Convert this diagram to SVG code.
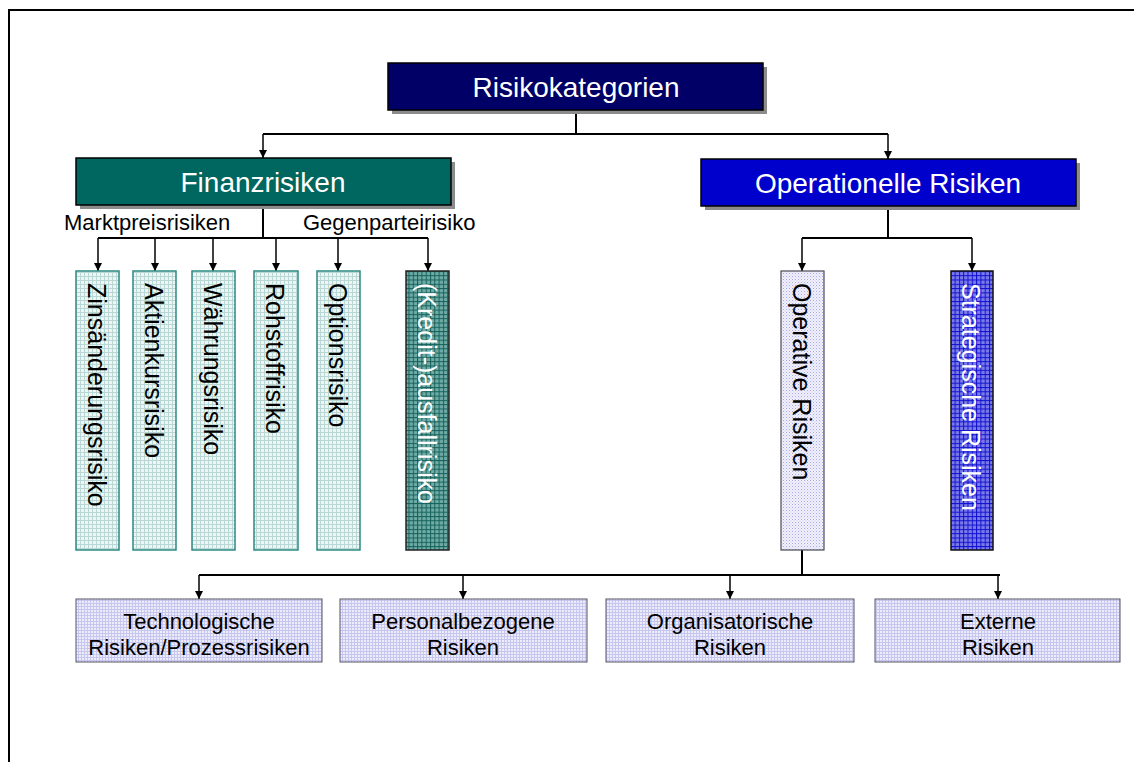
<svg xmlns="http://www.w3.org/2000/svg" width="1134" height="762" viewBox="0 0 1134 762">
  <style>
    text { font-family: "Liberation Sans", Arial, sans-serif; }
    .head { font-size: 28px; fill: #ffffff; text-anchor: middle; }
    .lbl { font-size: 22px; fill: #000000; }
    .vert { font-size: 25px; }
    .sub { font-size: 22px; fill: #000000; text-anchor: middle; }
    .wire { fill: none; stroke: #000000; stroke-width: 2; }
    .arrow { fill: none; stroke: #000000; stroke-width: 1.5; marker-end: url(#tip); }
    .shadow { fill: #8c8c8c; }
    .teal { fill: url(#dotTeal); stroke: #2e8a83; stroke-width: 1.5; }
    .lav { fill: url(#dotLav); stroke: #4a4a55; stroke-width: 1.2; }
    .box { fill: url(#gridLav); stroke: #555566; stroke-width: 1; }
  </style>
  <defs>
    <marker id="tip" viewBox="0 0 10 10" refX="10" refY="5" markerWidth="8" markerHeight="8" markerUnits="userSpaceOnUse" orient="auto">
      <path d="M0,0 L10,5 L0,10 Z" fill="#000000"/>
    </marker>
    <pattern id="dotTeal" width="4" height="4" patternUnits="userSpaceOnUse">
      <rect width="4" height="4" fill="#eef6f5"/>
      <rect x="0" y="0" width="4" height="1" fill="#b9d8d5"/>
      <rect x="0" y="0" width="1" height="4" fill="#b9d8d5"/>
    </pattern>
    <pattern id="gridTeal" width="4.3" height="4.3" patternUnits="userSpaceOnUse">
      <rect width="4.3" height="4.3" fill="#70aba6"/>
      <rect x="0" y="0" width="4.3" height="1" fill="#15615b"/>
      <rect x="0" y="0" width="1" height="4.3" fill="#15615b"/>
    </pattern>
    <pattern id="dotLav" width="3" height="3" patternUnits="userSpaceOnUse">
      <rect width="3" height="3" fill="#f0f0fb"/>
      <rect x="0" y="0" width="1" height="1" fill="#a8a8e6"/>
      <rect x="1.5" y="1.5" width="1" height="1" fill="#c8c8f0"/>
    </pattern>
    <pattern id="gridBlue" width="4.3" height="4.3" patternUnits="userSpaceOnUse">
      <rect width="4.3" height="4.3" fill="#7b7be8"/>
      <rect x="0" y="0" width="4.3" height="1" fill="#1010d0"/>
      <rect x="0" y="0" width="1" height="4.3" fill="#1010d0"/>
    </pattern>
    <pattern id="gridLav" width="3" height="3" patternUnits="userSpaceOnUse">
      <rect width="3" height="3" fill="#ececfa"/>
      <rect x="0" y="0" width="3" height="1" fill="#c6c6ee"/>
      <rect x="0" y="0" width="1" height="3" fill="#c6c6ee"/>
    </pattern>
  </defs>

  <rect width="1134" height="762" fill="#ffffff"/>
  <!-- outer frame (open to the right and bottom) -->
  <path d="M9,762 V10 H1134" fill="none" stroke="#000000" stroke-width="2"/>

  <g id="connectors">
    <!-- root to first level -->
    <path class="wire" d="M576,111 V134 M263,134 H888"/>
    <path class="arrow" d="M263,134 V158"/>
    <path class="arrow" d="M888,134 V159"/>
    <!-- Finanzrisiken branch -->
    <path class="wire" d="M263,205 V238 M98,238 H428"/>
    <path class="arrow" d="M98,238 V271"/>
    <path class="arrow" d="M155,238 V271"/>
    <path class="arrow" d="M213,238 V271"/>
    <path class="arrow" d="M276,238 V271"/>
    <path class="arrow" d="M338,238 V271"/>
    <path class="arrow" d="M428,238 V271"/>
    <!-- Operationelle Risiken branch -->
    <path class="wire" d="M888,206 V238 M802,238 H972"/>
    <path class="arrow" d="M802,238 V271"/>
    <path class="arrow" d="M972,238 V271"/>
    <!-- Operative Risiken branch -->
    <path class="wire" d="M802,550 V575 M199,575 H1000"/>
    <path class="arrow" d="M199,575 V599"/>
    <path class="arrow" d="M463,575 V599"/>
    <path class="arrow" d="M730,575 V599"/>
    <path class="arrow" d="M998,575 V599"/>
  </g>

  <g id="risikokategorien">
    <rect class="shadow" x="392" y="67" width="375" height="47"/>
    <rect x="388" y="63" width="375" height="47" fill="#000066" stroke="#000000" stroke-width="1.5"/>
    <text class="head" x="576" y="97">Risikokategorien</text>
  </g>

  <g id="finanzrisiken">
    <rect class="shadow" x="80" y="162" width="375" height="47"/>
    <rect x="76" y="158" width="375" height="47" fill="#006660" stroke="#000000" stroke-width="1.5"/>
    <text class="head" x="263" y="192">Finanzrisiken</text>
  </g>

  <g id="operationelle-risiken">
    <rect class="shadow" x="705" y="163" width="375" height="47"/>
    <rect x="701" y="159" width="375" height="47" fill="#0000cc" stroke="#000000" stroke-width="1.5"/>
    <text class="head" x="888" y="193">Operationelle Risiken</text>
  </g>

  <g id="branch-labels">
    <text class="lbl" x="64" y="230">Marktpreisrisiken</text>
    <text class="lbl" x="303" y="230">Gegenparteirisiko</text>
  </g>

  <g id="zinsaenderungsrisiko">
    <rect class="teal" x="76" y="271" width="43" height="279"/>
    <text class="vert" transform="translate(87.5,283) rotate(90)" fill="#000000">Zinsänderungsrisiko</text>
  </g>
  <g id="aktienkursrisiko">
    <rect class="teal" x="133" y="271" width="43" height="279"/>
    <text class="vert" transform="translate(144.5,283) rotate(90)" fill="#000000">Aktienkursrisiko</text>
  </g>
  <g id="waehrungsrisiko">
    <rect class="teal" x="192" y="271" width="43" height="279"/>
    <text class="vert" transform="translate(203.5,283) rotate(90)" fill="#000000">Währungsrisiko</text>
  </g>
  <g id="rohstoffrisiko">
    <rect class="teal" x="254" y="271" width="44" height="279"/>
    <text class="vert" transform="translate(266,283) rotate(90)" fill="#000000">Rohstoffrisiko</text>
  </g>
  <g id="optionsrisiko">
    <rect class="teal" x="317" y="271" width="43" height="279"/>
    <text class="vert" transform="translate(328.5,283) rotate(90)" fill="#000000">Optionsrisiko</text>
  </g>
  <g id="ausfallrisiko">
    <rect x="406" y="271" width="43" height="279" fill="url(#gridTeal)" stroke="#222222" stroke-width="1.5"/>
    <text class="vert" transform="translate(417.5,283) rotate(90)" fill="#ffffff">(Kredit-)ausfallrisiko</text>
  </g>

  <g id="operative-risiken">
    <rect class="lav" x="781" y="271" width="43" height="279"/>
    <text class="vert" transform="translate(792.5,283) rotate(90)" fill="#000000">Operative Risiken</text>
  </g>
  <g id="strategische-risiken">
    <rect x="951" y="271" width="42" height="279" fill="url(#gridBlue)" stroke="#111111" stroke-width="1.5"/>
    <text class="vert" transform="translate(962,283) rotate(90)" fill="#ffffff">Strategische Risiken</text>
  </g>

  <g id="technologische-risiken">
    <rect class="box" x="76" y="599" width="246" height="63"/>
    <text class="sub" x="199" y="629">Technologische</text>
    <text class="sub" x="199" y="655">Risiken/Prozessrisiken</text>
  </g>
  <g id="personalbezogene-risiken">
    <rect class="box" x="340" y="599" width="247" height="63"/>
    <text class="sub" x="463" y="629">Personalbezogene</text>
    <text class="sub" x="463" y="655">Risiken</text>
  </g>
  <g id="organisatorische-risiken">
    <rect class="box" x="606" y="599" width="248" height="63"/>
    <text class="sub" x="730" y="629">Organisatorische</text>
    <text class="sub" x="730" y="655">Risiken</text>
  </g>
  <g id="externe-risiken">
    <rect class="box" x="875" y="599" width="245" height="63"/>
    <text class="sub" x="998" y="629">Externe</text>
    <text class="sub" x="998" y="655">Risiken</text>
  </g>
</svg>
